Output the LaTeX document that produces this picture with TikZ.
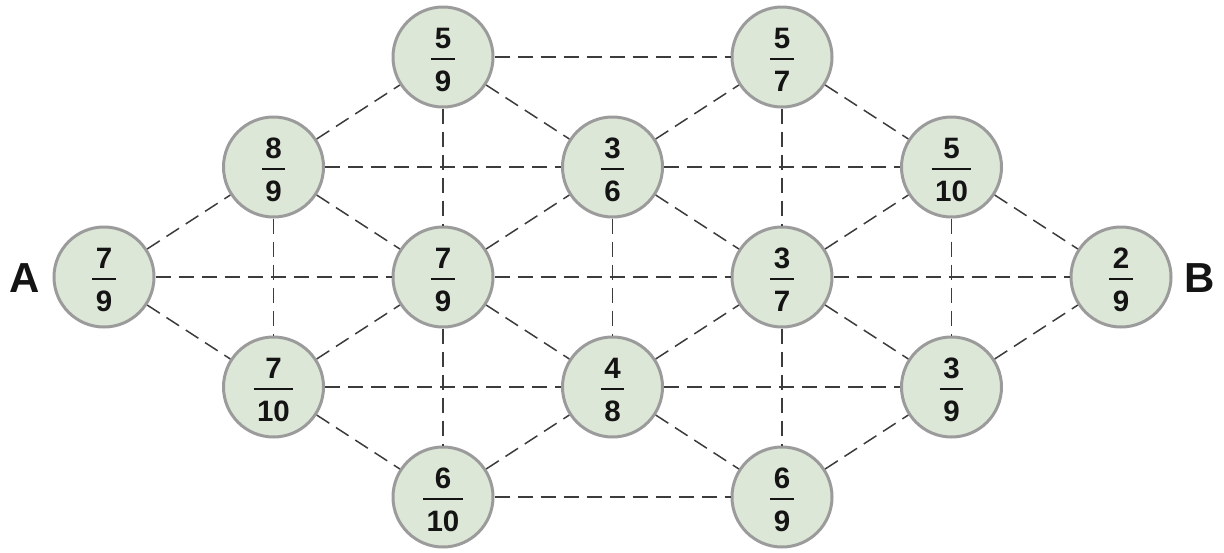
\documentclass[tikz,border=0pt]{standalone}
\usepackage{fontspec}
\setmainfont{Liberation Sans}
\definecolor{nodefill}{RGB}{221,231,216}
\definecolor{nodeline}{RGB}{155,155,155}
\definecolor{edgecol}{RGB}{60,60,60}
\definecolor{txt}{RGB}{20,20,20}
\newcommand\fr[2]{\raisebox{-6.3pt}[\height][\depth]{\setlength\arrayrulewidth{2pt}\renewcommand\arraystretch{1}\begin{tabular}{@{\hspace{3.5pt}}c@{\hspace{3.5pt}}}#1\\\hline\rule{0pt}{31.5pt}#2\end{tabular}}}
\begin{document}
\begin{tikzpicture}[x=1pt,y=-1pt,
  circ/.style={circle, draw=nodeline, fill=nodefill, line width=3pt, minimum size=100pt, inner sep=0pt, text=txt, font=\fontsize{29.5}{32}\selectfont\bfseries},
  link/.style={dash pattern=on 15pt off 8pt, line width=1.5pt, draw=edgecol},
  endlabel/.style={font=\fontsize{42}{48}\selectfont\bfseries, text=txt, inner sep=0pt}]
\useasboundingbox (0,0) rectangle (1224,552);
\node[circ] (a1) at (104,277) {\fr{7}{9}};
\node[circ] (b1) at (273.5,167) {\fr{8}{9}};
\node[circ] (b2) at (273.5,387) {\fr{7}{10}};
\node[circ] (c1) at (443,57) {\fr{5}{9}};
\node[circ] (c2) at (443,277) {\fr{7}{9}};
\node[circ] (c3) at (443,497) {\fr{6}{10}};
\node[circ] (d1) at (612.5,167) {\fr{3}{6}};
\node[circ] (d2) at (612.5,387) {\fr{4}{8}};
\node[circ] (e1) at (782,57) {\fr{5}{7}};
\node[circ] (e2) at (782,277) {\fr{3}{7}};
\node[circ] (e3) at (782,497) {\fr{6}{9}};
\node[circ] (f1) at (951.5,167) {\fr{5}{10}};
\node[circ] (f2) at (951.5,387) {\fr{3}{9}};
\node[circ] (g1) at (1121,277) {\fr{2}{9}};
\node[endlabel] (A) at (25,278) {A};
\node[endlabel] (B) at (1200,278) {B};
\foreach \u/\v in {a1/b1,a1/b2,a1/c2,
  b1/c1,b1/d1,b1/c2,b1/b2,
  b2/c2,b2/d2,b2/c3,
  c1/e1,c1/c2,c1/d1,
  c2/d1,c2/d2,c2/c3,c2/e2,
  c3/d2,c3/e3,
  d1/e1,d1/e2,d1/d2,d1/f1,
  d2/e2,d2/e3,d2/f2,
  e1/e2,e1/f1,
  e2/f1,e2/f2,e2/e3,e2/g1,
  e3/f2,
  f1/g1,f1/f2,
  f2/g1}
  \draw[link] (\u) -- (\v);
\end{tikzpicture}
\end{document}
